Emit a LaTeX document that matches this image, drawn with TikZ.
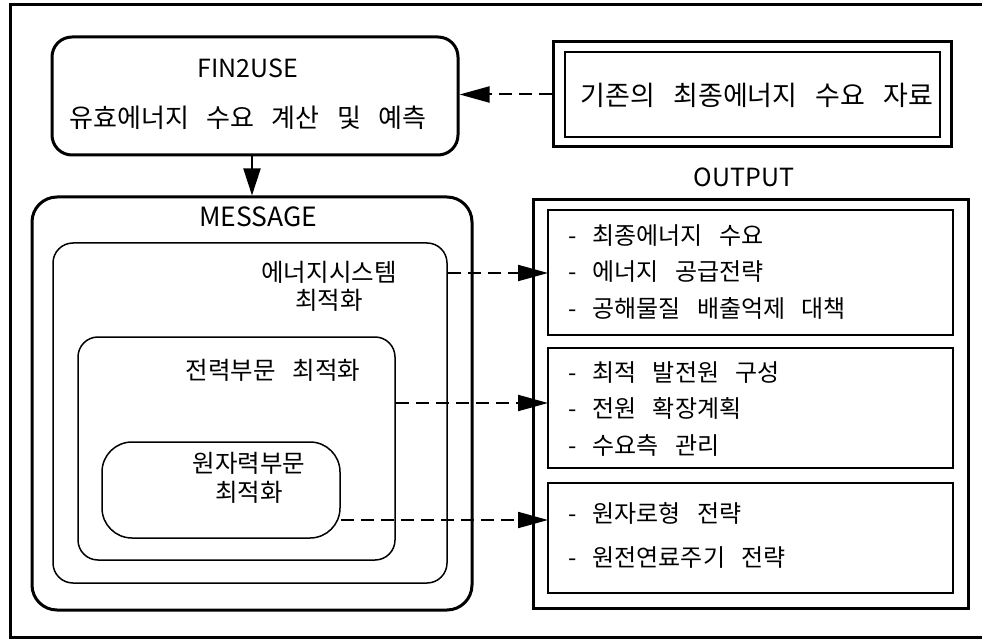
\documentclass[tikz,border=0pt]{standalone}
\usepackage{fontspec}
\setmainfont{Noto Sans CJK KR}[WordSpace=3]
\usetikzlibrary{arrows.meta,calc}
\begin{document}
\begin{tikzpicture}[x=1pt,y=-1pt,
  thickbox/.style={draw,line width=3pt,inner sep=0pt},
  thinbox/.style={draw,line width=1.5pt,inner sep=0pt},
  lbl/.style={inner sep=0pt,anchor=center},
  item/.style={inner sep=0pt,anchor=west},
  dasharrow/.style={line width=2pt,dash pattern=on 13pt off 7pt,-{Triangle[length=30pt,width=16pt]}},
  solidarrow/.style={line width=2pt,-{Triangle[length=27pt,width=17pt]}},
  kobig/.style={font=\fontsize{26}{30}\selectfont},
  kosrc/.style={font=\fontsize{27}{31}\selectfont},
  komid/.style={font=\fontsize{24.5}{29}\selectfont},
  ko/.style={font=\fontsize{24}{28}\selectfont},
  en/.style={font=\fontsize{25}{29}\selectfont},
  enb/.style={font=\fontsize{26.5}{30}\selectfont}]
\useasboundingbox (0,0) rectangle (982,644);
% outer frame (open at right)
\draw[line width=3pt] (995,5) -- (10,5) -- (10,637) -- (995,637);
% FIN2USE
\node[thickbox,rounded corners=20pt,minimum width=406pt,minimum height=118pt] (fin) at (255,96) {};
\node[lbl,en] (fint) at (248,68) {FIN2USE};
\node[lbl,kobig] (finko) at (248,118) {유효에너지 수요 계산 및 예측};
% source box
\node[thickbox,minimum width=398pt,minimum height=105pt] (src) at (752,94.5) {};
\node[thinbox,minimum width=375pt,minimum height=85pt] (srcin) at (752.5,94.5) {};
\node[lbl,kosrc] (srct) at (757,95) {기존의 최종에너지 수요 자료};
% MESSAGE
\node[thickbox,rounded corners=25pt,minimum width=440pt,minimum height=413pt] (msg) at (252,403.5) {};
\node[lbl,enb] (msgt) at (258,217) {MESSAGE};
\node[thinbox,rounded corners=20pt,minimum width=394pt,minimum height=340pt] (sys) at (250,413) {};
\node[lbl,komid] (syst1) at (329,272) {에너지시스템};
\node[lbl,komid] (syst2) at (329,300) {최적화};
\node[thinbox,rounded corners=20pt,minimum width=317pt,minimum height=223pt] (elec) at (236.5,448.5) {};
\node[lbl,komid] (elect) at (273,370) {전력부문 최적화};
\node[thinbox,rounded corners=30pt,minimum width=238pt,minimum height=96pt] (nuc) at (221,490) {};
\node[lbl,komid] (nuct1) at (249,463) {원자력부문};
\node[lbl,komid] (nuct2) at (249,492) {최적화};
% OUTPUT
\node[lbl,en] (outt) at (744,177) {OUTPUT};
\node[thickbox,minimum width=435pt,minimum height=408pt] (out) at (750.5,404) {};
\node[thinbox,minimum width=405pt,minimum height=125pt] (o1) at (750.5,272.5) {};
\node[thinbox,minimum width=405pt,minimum height=120pt] (o2) at (750.5,408) {};
\node[thinbox,minimum width=405pt,minimum height=110pt] (o3) at (750.5,538) {};
\node[item,ko] (o1a) at (568,236) {- 최종에너지 수요};
\node[item,ko] (o1b) at (568,272) {- 에너지 공급전략};
\node[item,ko] (o1c) at (568,308) {- 공해물질 배출억제 대책};
\node[item,ko] (o2a) at (568,373) {- 최적 발전원 구성};
\node[item,ko] (o2b) at (568,408) {- 전원 확장계획};
\node[item,ko] (o2c) at (568,445) {- 수요측 관리};
\node[item,ko] (o3a) at (568,513) {- 원자로형 전략};
\node[item,ko] (o3b) at (568,558) {- 원전연료주기 전략};
% connectors
\coordinate (p1) at (548,273);
\coordinate (p2) at (548,403);
\coordinate (p3) at (548,520);
\draw[solidarrow] (fin.south -| msg.north) -- (msg.north);
\draw[dasharrow] (src.west) -- (src.west -| fin.east);
\draw[dasharrow] (sys.east |- p1) -- (p1);
\draw[dasharrow] (elec.east |- p2) -- (p2);
\draw[dasharrow] (nuc.east |- p3) -- (p3);
\end{tikzpicture}
\end{document}
